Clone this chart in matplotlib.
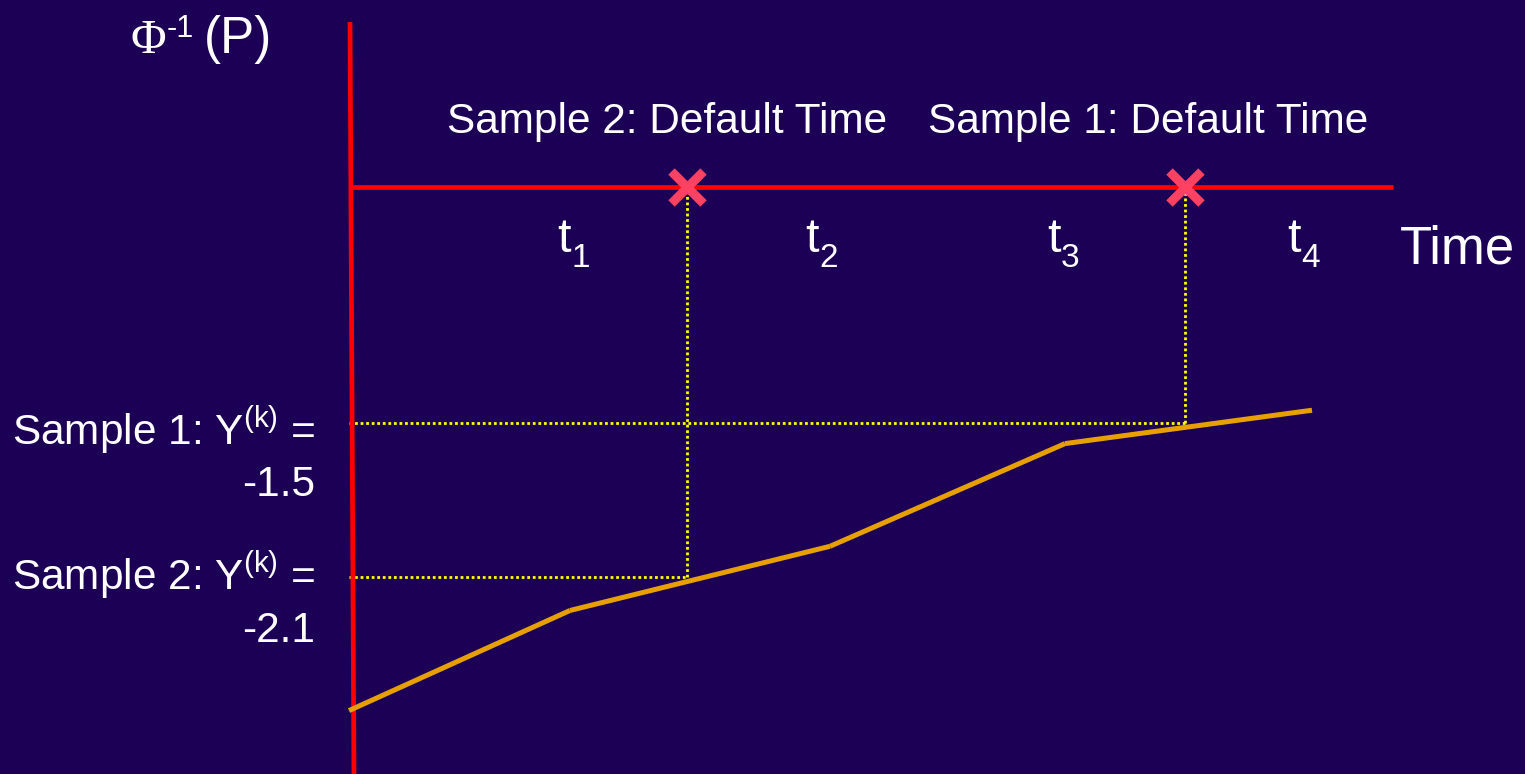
import matplotlib
matplotlib.use("Agg")
import matplotlib.pyplot as plt

plt.rcParams["mathtext.fontset"] = "custom"
plt.rcParams["mathtext.rm"] = "Liberation Sans"
plt.rcParams["mathtext.it"] = "Liberation Sans"
plt.rcParams["mathtext.default"] = "regular"

# ---- data -------------------------------------------------------------
# piecewise-linear curve of Phi^{-1}(P) against time
curve_times = [0.0, 2.21, 4.81, 7.16, 9.63]
curve_values = [-2.62, -2.23, -1.98, -1.58, -1.45]

# simulated samples: drawn Y^(k) and the resulting default times
sample_names = ["Sample 1", "Sample 2"]
sample_y = [-1.5, -2.1]
default_times = [8.36, 3.38]

period_subscripts = ["1", "2", "3", "4"]
period_label_times = [2.08, 4.56, 6.98, 9.38]

# ---- style ------------------------------------------------------------
BG = "#1C0055"
RED = "#FF0000"
ORANGE = "#E8A000"
YELLOW = "#FFFF00"
CROSS = "#FF4262"
WHITE = "#FFFFFF"

W, H = 1525, 774
X0, X1 = -3.49, 11.76
fig = plt.figure(figsize=(W / 100, H / 100), dpi=100, facecolor=BG)
ax = fig.add_axes([0, 0, 1, 1])
ax.set_facecolor(BG)
ax.set_xlim(X0, X1)
ax.set_ylim(-2.867, 0.148)
ax.axis("off")

axis_level = -0.58      # height of the horizontal time axis
axis_end = 10.44

# axes
ax.plot([0.01, 0.05], [0.062, -2.9], color=RED, lw=3.4, solid_capstyle="butt", zorder=3)
ax.plot([0.02, axis_end], [axis_level, axis_level], color=RED, lw=3.4,
        solid_capstyle="butt", zorder=3)

# curve, drawn segment by segment
for i in range(len(curve_times) - 1):
    ax.plot(curve_times[i:i + 2], curve_values[i:i + 2], color=ORANGE, lw=3.6,
            solid_capstyle="butt", zorder=4)

# dotted guides from each sample level to its default time
dots = dict(color=YELLOW, lw=2.0, ls=(0, (1, 1)), dash_capstyle="butt", zorder=2)
for y, t in zip(sample_y, default_times):
    ax.plot([0.0, t], [y, y], **dots)
    ax.plot([t, t], [y, axis_level], **dots)
    ax.plot([t], [axis_level], marker="x", ms=23, mew=6.5, color=CROSS, zorder=5)


def px_text(x, y, s, **kw):
    kw.setdefault("color", WHITE)
    kw.setdefault("family", "Liberation Sans")
    kw.setdefault("va", "baseline")
    return fig.text(x / W, 1 - y / H, s, **kw)


# y-axis title
px_text(131, 53, "Φ", fontsize=35, family="Liberation Serif")
px_text(167, 37, "-1", fontsize=22)
px_text(204, 53, "(P)", fontsize=37)

# default-time captions
px_text(447, 133, "Sample 2: Default Time", fontsize=30.5)
px_text(928, 133, "Sample 1: Default Time", fontsize=30.5)

# period labels: t with a lowered subscript
for sub, t in zip(period_subscripts, period_label_times):
    x_px = (t - X0) / (X1 - X0) * W
    px_text(x_px, 252, "t", fontsize=35)
    px_text(x_px + 14, 267, sub, fontsize=24)
px_text(1400, 263, "Time", fontsize=38)

# sample level labels
label_rows = [(445, 496), (590, 642)]
for name, y, (r1, r2) in zip(sample_names, sample_y, label_rows):
    px_text(315, r1, name + ": Y$^{(k)}$ =", fontsize=30.5, ha="right")
    px_text(315, r2, f"{y:.1f}", fontsize=30.5, ha="right")

fig.savefig("out.png", dpi=100, facecolor=BG)
